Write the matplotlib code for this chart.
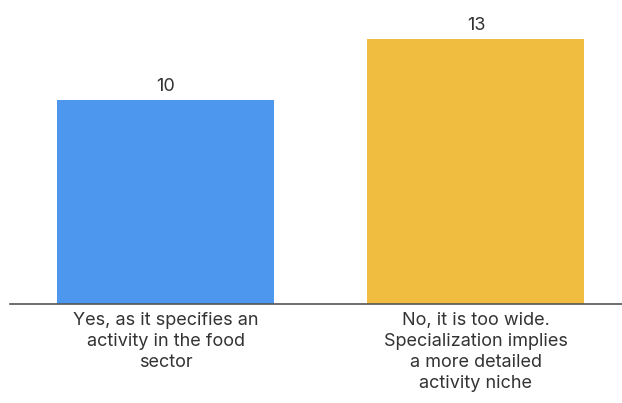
import matplotlib.pyplot as plt

categories = ['Yes, as it specifies an\nactivity in the food\nsector',
              'No, it is too wide.\nSpecialization implies\na more detailed\nactivity niche']
values = [10, 13]
colors = ['#4d98ee', '#f0bd40']

plt.rcParams['font.family'] = ['Inter', 'DejaVu Sans']

W, H = 622, 403
fig = plt.figure(figsize=(W / 100, H / 100), dpi=100)
ax = fig.add_axes([10 / W, (H - 304) / H, 612 / W, 304 / H])

x = list(range(len(values)))
ax.bar(x, values, width=0.7, color=colors, zorder=2)
for xi, v in zip(x, values):
    ax.text(xi, v + 0.25, str(v), ha='center', va='bottom', fontsize=13, color='#333333')

ax.set_xlim(-0.503, 1.471)
ax.set_ylim(0, 14.9)
ax.set_xticks(x)
ax.set_xticklabels(categories, fontsize=13, color='#333333', linespacing=1.3)
ax.tick_params(axis='x', length=0, pad=6)
ax.set_yticks([])
for s in ['top', 'right', 'left']:
    ax.spines[s].set_visible(False)
ax.spines['bottom'].set_color('#555555')
ax.spines['bottom'].set_linewidth(1.2)
ax.spines['bottom'].set_zorder(3)

fig.savefig('out.png', dpi=100)
